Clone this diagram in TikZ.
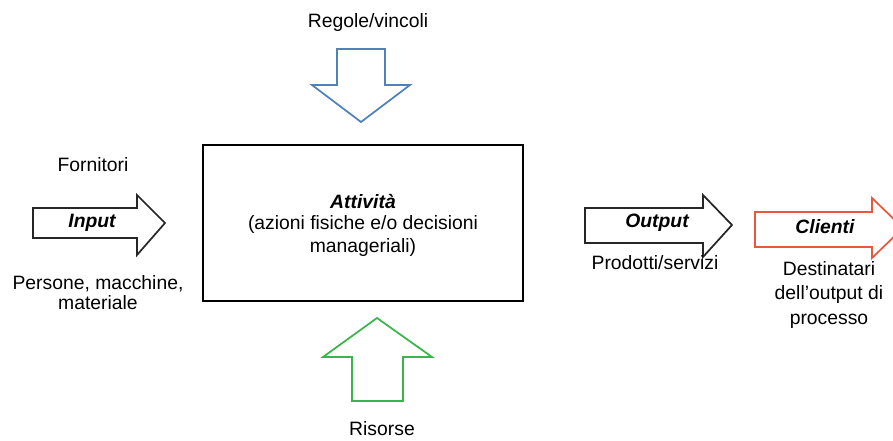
\documentclass[tikz,border=0pt]{standalone}
\usepackage{fontspec}
\setmainfont{Liberation Sans}
\definecolor{ablue}{HTML}{4F81BD}
\definecolor{agreen}{HTML}{3AB54A}
\definecolor{ared}{HTML}{E8583F}
\begin{document}
\begin{tikzpicture}[x=0.75pt,y=-0.75pt,
  lbl/.style={inner sep=0pt,align=center,font=\fontsize{14.5}{16}\selectfont},
  lblem/.style={lbl,font=\fontsize{14.5}{16}\selectfont\bfseries\itshape},
  arr/.style={line width=1.3pt,fill=white,line join=miter}]
\clip (0,0) rectangle (893,441);
\fill[white] (0,0) rectangle (893,441);
% main box
\node[draw=black,line width=2pt,minimum width=320*0.75pt,minimum height=156*0.75pt,inner sep=0pt] (box) at (363,223) {};
\node[lblem] (att) at (363,202) {Attività};
\node[lbl,font=\fontsize{14.5}{17.5}\selectfont] (attd) at (363,236) {(azioni fisiche e/o decisioni\\manageriali)};
% top arrow (blue)
\draw[arr,draw=ablue] (337,49) -- (385,49) -- (385,85) -- (410,85) -- (361,122) -- (312,85) -- (337,85) -- cycle;
\node[lbl] (reg) at (368,23) {Regole/vincoli};
% bottom arrow (green)
\draw[arr,draw=agreen] (352,401) -- (403,401) -- (403,357) -- (432,357) -- (377,318) -- (323,357) -- (352,357) -- cycle;
\node[lbl] (ris) at (382,429) {Risorse};
% input arrow
\draw[arr,draw=black!85] (33,208) -- (137,208) -- (137,195) -- (165,223) -- (137,255) -- (137,238) -- (33,238) -- cycle;
\node[lblem] (inp) at (92,223) {Input};
\node[lbl] (forn) at (93,165) {Fornitori};
\node[lbl,font=\fontsize{14.5}{15}\selectfont] (pers) at (98,293) {Persone, macchine,\\materiale};
% output arrow
\draw[arr,draw=black!85] (585,208) -- (703,208) -- (703,195) -- (732,225) -- (703,257) -- (703,243) -- (585,243) -- cycle;
\node[lblem] (out) at (657,223) {Output};
\node[lbl] (prod) at (655,263) {Prodotti/servizi};
% clienti arrow (red)
\draw[arr,draw=ared] (755,212) -- (872,212) -- (872,198) -- (903,228) -- (872,258) -- (872,247) -- (755,247) -- cycle;
\node[lblem] (cli) at (825,227) {Clienti};
\node[lbl,font=\fontsize{14.5}{18.5}\selectfont] (dest) at (829,295) {Destinatari\\dell’output di\\processo};
\end{tikzpicture}
\end{document}
